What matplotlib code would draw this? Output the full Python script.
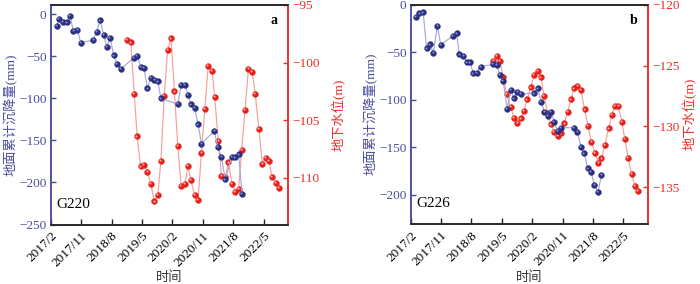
import matplotlib
matplotlib.use("Agg")
import matplotlib.pyplot as plt
from matplotlib.transforms import offset_copy

plt.rcParams['font.family'] = ['Liberation Serif', 'Noto Sans CJK SC', 'DejaVu Sans']
plt.rcParams['axes.unicode_minus'] = True

# x positions: months elapsed since 2017/2
tick_pos = [0, 9, 18, 27, 36, 45, 54, 63]
tick_labels = ['2017/2', '2017/11', '2018/8', '2019/5', '2020/2', '2020/11', '2021/8', '2022/5']

# ---- G220 (panel a) ----
ma_sub = [1.8, 2.5, 3.7, 4.7, 5.7, 6.7, 7.9, 8.9, 12.6, 13.6, 14.6, 15.7, 16.6, 17.6, 18.6,
          19.6, 20.8, 24.6, 25.6, 26.6, 27.6, 28.6, 29.6, 30.7, 31.7, 32.6, 37.6, 38.6, 39.7,
          40.6, 41.5, 42.6, 43.6, 44.6, 48.4, 49.4, 50.5, 51.6, 53.6, 54.6, 55.6, 56.6]
sub_a = [-14, -6, -9, -10, -2, -20, -19, -34, -31, -21, -7.5, -25, -39, -28, -49,
         -59, -65, -52, -49.5, -62.6, -63.6, -88.4, -75.7, -78, -80, -100.3, -107, -84.6, -84,
         -95.7, -107.4, -111.4, -131.2, -153.8, -139.1, -157.5, -169.6, -196.5, -169.6, -170.4, -166.6, -213.2]
ma_gw = [22.5, 23.7, 24.7, 25.6, 26.6, 27.6, 28.6, 29.6, 30.7, 31.7, 32.6, 33.6, 34.6, 35.6,
         36.6, 37.6, 38.6, 39.7, 40.6, 41.5, 42.6, 43.6, 44.6, 45.6, 46.6, 47.8, 48.5, 49.6,
         50.5, 51.7, 52.6, 53.6, 54.6, 55.6, 56.5, 57.5, 58.5, 59.6, 60.5, 61.6, 62.6, 63.6,
         64.6, 65.5, 66.6, 67.6]
gw_a = [-98.05, -98.25, -102.7, -106.4, -109.0, -108.9, -109.5, -110.5, -112.05, -111.5, -108.5,
        -102.9, -98.9, -97.9, -102.5, -107.2, -110.7, -110.55, -108.95, -110.2, -111.5, -111.9,
        -107.85, -104.0, -100.3, -100.7, -102.95, -106.8, -109.8, -109.9, -108.65, -110.55,
        -111.25, -110.93, -107.6, -104.1, -100.55, -100.8, -102.7, -105.75, -108.8, -108.3,
        -108.55, -109.95, -110.45, -110.9]

# ---- G226 (panel b) ----
mb_sub = [1.6, 2.55, 3.7, 4.7, 5.7, 6.7, 7.9, 8.9, 12.4, 13.6, 14.4, 15.6, 16.6, 17.6, 18.5,
          19.5, 20.7, 24.4, 25.5, 26.4, 27.4, 28.6, 29.6, 30.6, 31.6, 32.6, 36.4, 37.6, 38.6,
          39.6, 40.6, 41.5, 42.5, 43.5, 44.5, 48.4, 49.4, 50.4, 51.4, 52.4, 53.4, 54.4, 55.5, 56.5]
sub_b = [-12.6, -9.1, -8.0, -45.9, -41.7, -50.5, -22.1, -42.4, -32.9, -30.1, -52.2, -54, -60.6,
         -60.6, -72.2, -71.6, -65.3, -62.7, -63.5, -74, -80.3, -109.8, -89.8, -98.5, -91.6, -94,
         -93.3, -88, -102.1, -112.6, -117.2, -112.6, -123.2, -132.9, -129.5, -129.5, -133.7,
         -149.5, -156.4, -172.2, -175.8, -189.8, -196.8, -179.3]
mb_gw = [24.5, 25.5, 26.4, 27.4, 28.4, 29.6, 30.6, 31.6, 32.6, 33.5, 34.5, 35.5, 36.5, 37.6,
         38.6, 39.5, 40.6, 41.5, 42.5, 43.5, 44.5, 45.5, 46.5, 47.5, 48.4, 49.4, 50.4, 51.5,
         52.5, 53.5, 54.6, 55.6, 56.5, 57.5, 58.6, 59.5, 60.5, 61.5, 62.5, 63.4, 64.4, 65.4,
         66.4, 67.4]
gw_b = [-124.63, -124.22, -124.6, -125.93, -127.3, -128.4, -129.3, -129.7, -129.35, -128.75,
        -127.79, -126.8, -125.79, -125.43, -125.98, -127.5, -128.94, -129.84, -130.45, -130.8,
        -130.58, -129.76, -128.8, -127.79, -126.88, -126.69, -127.02, -128.61, -129.98, -131.27,
        -132.18, -133.0, -132.64, -131.55, -130.17, -129.08, -128.34, -128.34, -129.63, -131.0,
        -132.59, -133.88, -134.92, -135.3]

BLUE_AX = '#4a4c9c'
BLUE_MK = '#2a2f80'
BLUE_LN = '#a6a8d8'
RED_AX = '#ee2a24'
RED_MK = '#e8201a'
RED_LN = '#f5a09a'
SERIF = ['Liberation Serif', 'Noto Sans CJK SC']
TFS = 9.5


def sphere(ax, x, y, mk, ln, hl, fig):
    ax.plot(x, y, '-', color=ln, lw=0.85, zorder=2)
    ax.plot(x, y, 'o', ms=4.2, color=mk, mec=mk, mew=0.3, zorder=3)
    tr = offset_copy(ax.transData, fig=fig, x=-0.55, y=0.55, units='points')
    ax.plot(x, y, 'o', ms=1.5, color=hl, mew=0, alpha=0.85, transform=tr, zorder=4)


def panel(rect, xs, ys, xg, yg, ylim1, yticks1, ylim2, yticks2, letter, name, rpad):
    ax = fig.add_axes(rect)
    ax2 = ax.twinx()
    ax.set_zorder(ax2.get_zorder() + 1)
    ax.patch.set_visible(False)
    sphere(ax2, xg, yg, RED_MK, RED_LN, '#ffd0c8', fig)
    sphere(ax, xs, ys, BLUE_MK, BLUE_LN, '#9aa0e0', fig)
    ax.set_xlim(0, 70.2)
    ax.set_ylim(*ylim1)
    ax.set_yticks(yticks1)
    ax2.set_ylim(*ylim2)
    ax2.set_yticks(yticks2)
    ax.set_xticks(tick_pos)
    ax.set_xticklabels(tick_labels, rotation=45, ha='right', rotation_mode='anchor',
                       family=SERIF, fontsize=TFS)
    ax.tick_params(axis='x', direction='in', length=4, width=1.0, color='#222222', pad=4)
    ax.tick_params(axis='y', direction='in', length=3.5, width=1.0, color=BLUE_AX,
                   labelcolor=BLUE_AX, labelsize=TFS, pad=3)
    ax2.tick_params(axis='y', direction='in', length=3.5, width=1.0, color=RED_AX,
                    labelcolor=RED_AX, labelsize=TFS, pad=3)
    for lab in ax.get_yticklabels() + ax2.get_yticklabels():
        lab.set_family(SERIF)
    for a in (ax, ax2):
        a.spines['left'].set_color(BLUE_AX)
        a.spines['right'].set_color(RED_AX)
        a.spines['top'].set_color('#222222')
        a.spines['bottom'].set_color('#222222')
        for s in a.spines.values():
            s.set_linewidth(1.1)
    ax.set_ylabel('地面累计沉降量(mm)', color=BLUE_AX, fontsize=9.5, family=SERIF, labelpad=1)
    ax2.set_ylabel('地下水位(m)', color=RED_AX, fontsize=9.5, family=SERIF, labelpad=rpad)
    ax.set_xlabel('时间', fontsize=9.5, family=SERIF, color='#333333', labelpad=2)
    ax.text(0.955, 0.93, letter, transform=ax.transAxes, fontsize=10, fontweight='bold',
            ha='right', va='center', family=SERIF)
    ax.text(0.025, 0.09, name, transform=ax.transAxes, fontsize=11, ha='left', va='center',
            family=SERIF)
    return ax, ax2


fig = plt.figure(figsize=(7.0, 2.84), dpi=100)
panel([0.0724, 0.2095, 0.339, 0.7729], ma_sub, sub_a, ma_gw, gw_a,
      (-250, 10.7), [0, -50, -100, -150, -200, -250], (-114.05, -95), [-95, -100, -105, -110],
      'a', 'G220', 9)
panel([0.5867, 0.2123, 0.3386, 0.7712], mb_sub, sub_b, mb_gw, gw_b,
      (-230.5, 0), [0, -50, -100, -150, -200], (-138.0, -120), [-120, -125, -130, -135],
      'b', 'G226', 2.5)

fig.savefig('out.png', dpi=100)
